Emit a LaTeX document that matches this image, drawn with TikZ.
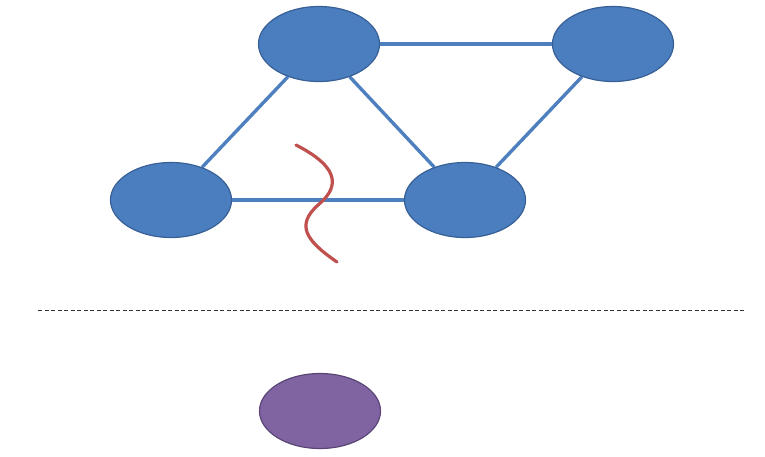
\documentclass[tikz,border=0pt]{standalone}
\usetikzlibrary{shapes.geometric,backgrounds}
\definecolor{nodeblue}{RGB}{74,126,191}
\definecolor{nodeedge}{RGB}{56,96,150}
\definecolor{edgeblue}{RGB}{78,128,192}
\definecolor{cutred}{RGB}{192,80,77}
\definecolor{purp}{RGB}{128,100,162}
\definecolor{purpedge}{RGB}{90,70,118}
\tikzset{
  vert/.style={ellipse, fill=nodeblue, draw=nodeedge, line width=1.2pt, minimum width=121pt, minimum height=75pt, inner sep=0pt},
  pvert/.style={ellipse, fill=purp, draw=purpedge, line width=1.2pt, minimum width=121pt, minimum height=75pt, inner sep=0pt},
  link/.style={draw=edgeblue, line width=3.4pt},
  cut/.style={draw=cutred, line width=3.2pt, line cap=round},
  sep/.style={draw=black!80, line width=0.8pt, dash pattern=on 4pt off 2.5pt}
}
\begin{document}
\begin{tikzpicture}[x=1pt,y=-1pt]
\useasboundingbox (0,0) rectangle (765,456);
\node[vert] (a) at (319,44) {};
\node[vert] (b) at (613,44) {};
\node[vert] (c) at (171,200) {};
\node[vert] (d) at (465,200) {};
\node[pvert] (p) at (320,411) {};
\begin{scope}[on background layer]
\path[link] (a) -- (b);
\path[link] (a) -- (c);
\path[link] (a) -- (d);
\path[link] (b) -- (d);
\path[link] (c) -- (d);
\end{scope}
\coordinate (r1) at (296,145);
\coordinate (r2) at (337,262);
\path[cut] (r1) .. controls (345,170) and (336,190) .. (318,205) .. controls (296,225) and (305,240) .. (r2);
\coordinate (s1) at (38,310);
\coordinate (s2) at (745,310);
\path[sep] (s1) -- (s2);
\end{tikzpicture}
\end{document}
